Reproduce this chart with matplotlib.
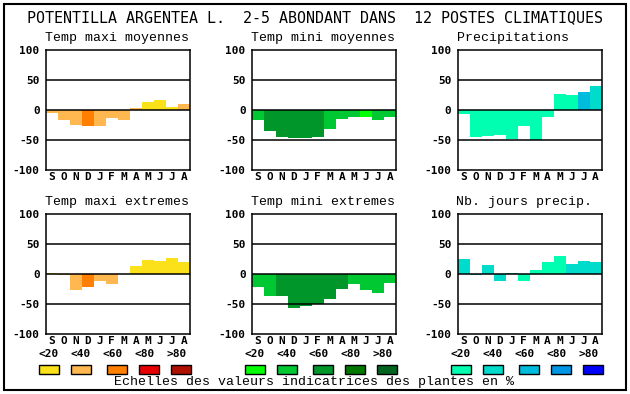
"""Potentilla argentea: monthly indicator values across 12 climate stations (6 small bar panels)."""
import numpy as np
import matplotlib
matplotlib.use("Agg")
import matplotlib.pyplot as plt
from matplotlib.patches import Rectangle

W, H = 630, 394
MONTHS = ["S", "O", "N", "D", "J", "F", "M", "A", "M", "J", "J", "A"]
CLASS_LABELS = ["<20", "<40", "<60", "<80", ">80"]
TITLE = "POTENTILLA ARGENTEA L.  2-5 ABONDANT DANS  12 POSTES CLIMATIQUES"
FOOTER = "Echelles des valeurs indicatrices des plantes en %"

# values (%) and colour class (0..4) per month
tmax_moy = [-5, -15.5, -24, -27, -25.5, -13, -17, 4, 14, 17, 5.5, 10.5]
tmax_moy_cls = [1, 1, 1, 2, 1, 1, 1, 1, 0, 0, 0, 1]
tmin_moy = [-16, -34, -44, -45.5, -45.5, -44, -32, -14.5, -12, -11.5, -17, -10.5]
tmin_moy_cls = [1, 2, 2, 2, 2, 2, 1, 1, 1, 0, 1, 1]
precip = [-7, -44, -43, -41, -48, -27, -49, -12, 27, 25.5, 30.5, 40.5]
precip_cls = [0, 0, 0, 0, 0, 0, 0, 0, 0, 0, 2, 1]
tmax_ext = [2, -2, -27, -20.5, -12, -15.5, 0, 14, 24, 22, 27, 20.5]
tmax_ext_cls = [0, 1, 1, 2, 1, 1, 1, 0, 0, 0, 0, 0]
tmin_ext = [-20.5, -37, -35.5, -55.5, -53, -50, -40.5, -24, -16, -25.5, -30.5, -14]
tmin_ext_cls = [1, 1, 2, 2, 2, 2, 2, 2, 1, 1, 1, 1]
jours = [25.5, -2, 15.5, -10.5, 2, -12, 7, 20.5, 30.5, 17, 22, 20.5]
jours_cls = [1, 1, 1, 1, 1, 0, 0, 0, 0, 1, 1, 1]

WARM = ["#fae11a", "#ffb850", "#ff8000", "#e80000", "#b01000"]
GREEN = ["#00ff00", "#00c832", "#00962a", "#007800", "#006420"]
WATER = ["#00ffb0", "#00dccc", "#00bcdc", "#0096e6", "#0000ff"]

PANELS = [
    ("Temp maxi moyennes", tmax_moy, tmax_moy_cls, WARM),
    ("Temp mini moyennes", tmin_moy, tmin_moy_cls, GREEN),
    ("Precipitations", precip, precip_cls, WATER),
    ("Temp maxi extremes", tmax_ext, tmax_ext_cls, WARM),
    ("Temp mini extremes", tmin_ext, tmin_ext_cls, GREEN),
    ("Nb. jours precip.", jours, jours_cls, WATER),
]

MONO = "DejaVu Sans Mono"
THIN = "Liberation Mono"
SMALL = 8.0

def fx(x): return x / W
def fy(y): return 1 - y / H

fig = plt.figure(figsize=(W / 100, H / 100), dpi=100)
fig.patch.set_facecolor("white")
fig.add_artist(Rectangle((fx(4), fy(390)), fx(622), 386 / H, transform=fig.transFigure,
                         fill=False, ec="black", lw=1.5))
fig.text(fx(27), fy(18), TITLE, family=MONO, fontsize=10.8, va="center", ha="left")

lefts = [45.7, 251.7, 457.5]
tops = [50.3, 214.3]
for i, (name, vals, cls, pal) in enumerate(PANELS):
    x0 = lefts[i % 3]; y0 = tops[i // 3]
    ax = fig.add_axes([fx(x0), fy(y0 + 120), 144 / W, 120 / H])
    x = np.arange(12)
    ax.bar(x, vals, width=1.0, color=[pal[c] for c in cls], lw=0, zorder=1)
    for g in (-50, 0, 50):
        ax.axhline(g, color="black", lw=1.1, zorder=3)
    ax.set_xlim(-0.5, 11.5); ax.set_ylim(-100, 100)
    ax.set_yticks([-100, -50, 0, 50, 100])
    ax.set_yticklabels(["-100", "-50", "0", "50", "100"], family=MONO, weight="bold", fontsize=SMALL)
    ax.set_xticks([])
    ax.tick_params(length=0, pad=4.3, axis="y")
    for k, m in enumerate(MONTHS):
        ax.text(k, -7 / 120, m, transform=ax.get_xaxis_transform(), family=MONO,
                weight="bold", fontsize=SMALL, ha="center", va="center")
    for s in ax.spines.values():
        s.set_linewidth(1.1); s.set_zorder(4)
    fig.text(fx(x0 - 1), fy(y0 - 12), name, family=THIN, fontsize=9.5, va="center", ha="left")

# legends under each column
lab_cx = [49, 81, 113, 145, 177]
box_cx = [49, 81, 117, 149, 181]
for j, pal in enumerate([WARM, GREEN, WATER]):
    off = 206 * j
    for k in range(5):
        fig.text(fx(lab_cx[k] + off), fy(354), CLASS_LABELS[k], family=MONO, weight="bold",
                 fontsize=SMALL, ha="center", va="center")
        fig.add_artist(Rectangle((fx(box_cx[k] + off - 10), fy(374)), 20 / W, 9.5 / H,
                                 transform=fig.transFigure, fc=pal[k], ec="black", lw=1))

fig.text(fx(314.5), fy(382.5), FOOTER, family=THIN, fontsize=9.5, ha="center", va="center")

fig.savefig("out.png", dpi=100)
